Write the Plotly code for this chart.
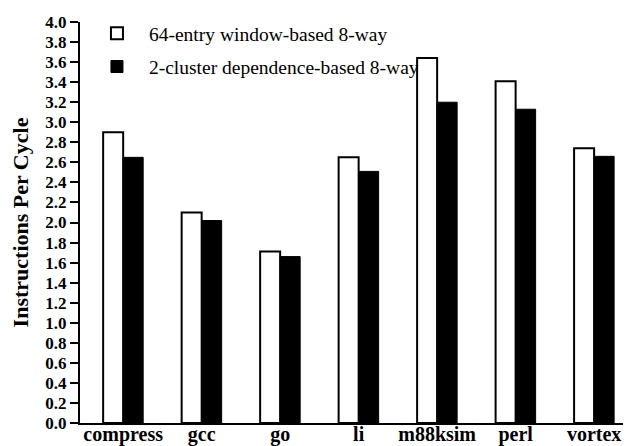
import plotly.graph_objects as go

categories = ["compress", "gcc", "go", "li", "m88ksim", "perl", "vortex"]
window_ipc = [2.90, 2.10, 1.71, 2.65, 3.64, 3.41, 2.74]
cluster_ipc = [2.65, 2.02, 1.66, 2.51, 3.20, 3.13, 2.66]
series_names = ["64-entry window-based 8-way", "2-cluster dependence-based 8-way"]
y_ticks = [round(i * 0.2, 1) for i in range(21)]

serif = "Liberation Serif, Times New Roman, serif"

fig = go.Figure()
fig.add_trace(go.Bar(
    x=categories, y=window_ipc, name=series_names[0],
    marker=dict(color="white", line=dict(color="black", width=2)),
    legendgroup="a",
))
fig.add_trace(go.Bar(
    x=categories, y=cluster_ipc, name=series_names[1],
    marker=dict(color="black", line=dict(color="black", width=1)),
    legendgroup="b",
))

# the page body has an 8px default margin, so the figure is sized to fill the rest
fig.update_layout(
    width=623, height=438,
    margin=dict(l=72, r=0, t=6, b=23),
    paper_bgcolor="white", plot_bgcolor="white",
    barmode="group", bargap=0.49, bargroupgap=0,
    font=dict(family=serif, color="black"),
    showlegend=True,
    legend=dict(
        x=0.009, y=1.0, xanchor="left", yanchor="top",
        font=dict(family=serif, size=19.5, color="black"),
        bgcolor="rgba(0,0,0,0)", traceorder="grouped", tracegroupgap=5,
        itemwidth=54,
    ),
    xaxis=dict(
        range=[-0.55, 6.47], showline=True, linecolor="black", linewidth=2,
        ticks="", showgrid=False, zeroline=False, automargin=False,
        tickfont=dict(family=serif, size=20, color="black", weight="bold"),
        ticklabelstandoff=-8,
    ),
    yaxis=dict(
        range=[0, 4.0], domain=[0, 0.9804], tickvals=y_ticks, tickformat=".1f",
        showline=True, linecolor="black", linewidth=2,
        ticks="outside", ticklen=8, tickwidth=1.5, tickcolor="black",
        showgrid=False, zeroline=False, automargin=False,
        tickfont=dict(family=serif, size=17, color="black", weight="bold"),
        title=dict(text="Instructions Per Cycle", standoff=13,
                   font=dict(family=serif, size=22, color="black", weight="bold")),
    ),
)

fig.write_html("out.html")
